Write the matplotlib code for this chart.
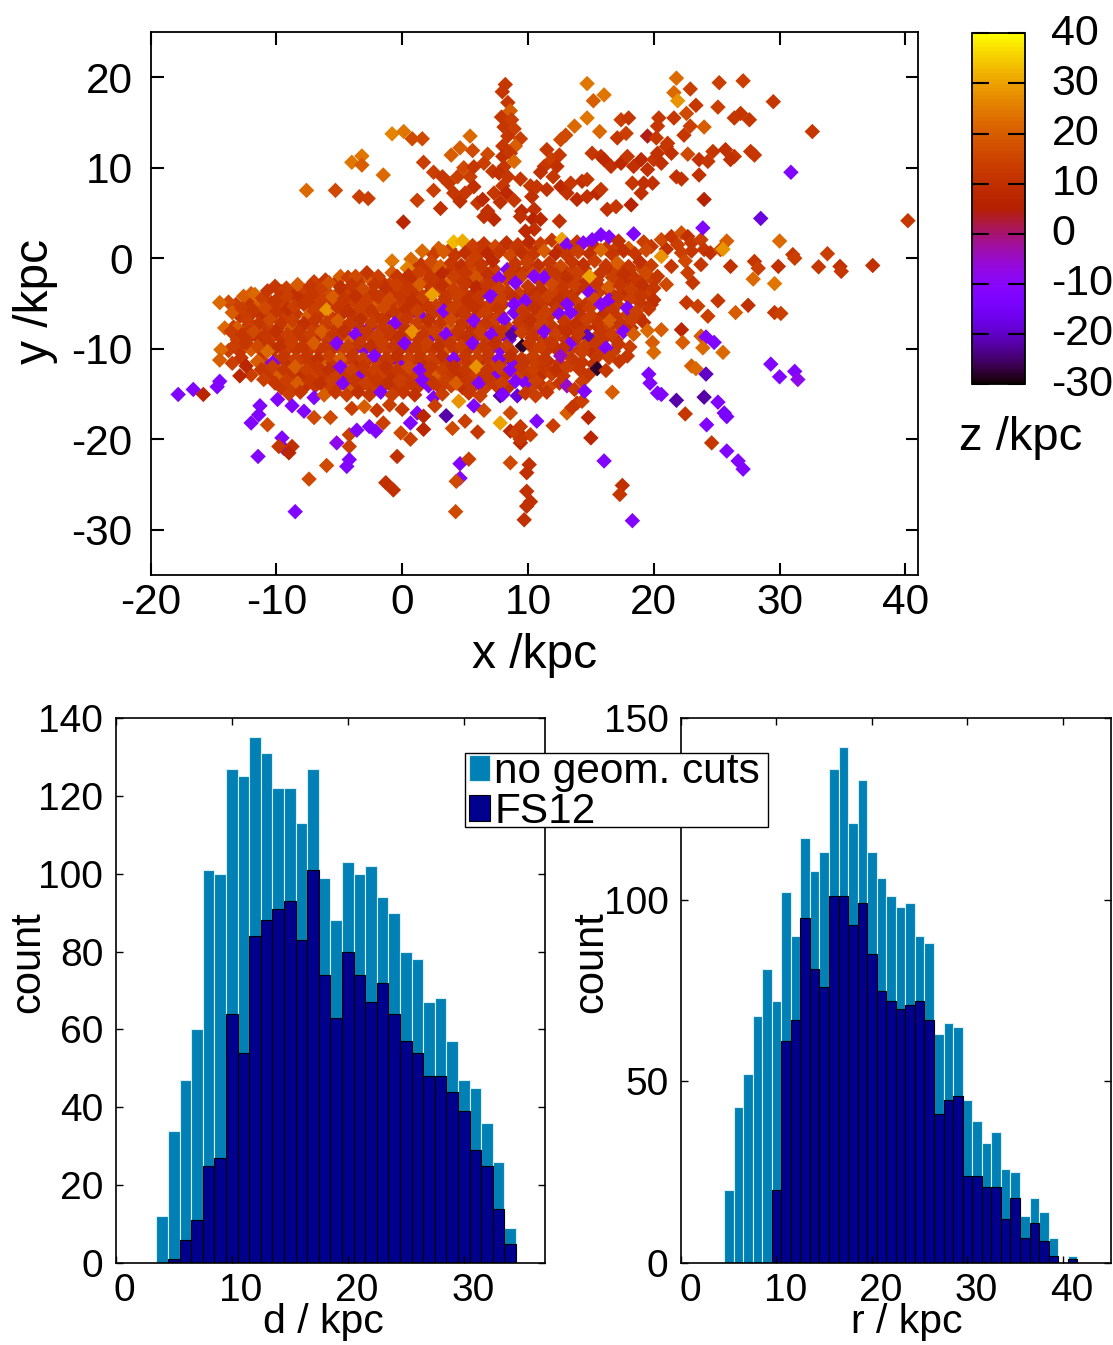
import numpy as np
import matplotlib
matplotlib.use("Agg")
import matplotlib.pyplot as plt
import matplotlib.transforms as mtransforms
from matplotlib.patches import Patch, Rectangle

plt.rcParams['font.family'] = ['Liberation Sans', 'DejaVu Sans']
plt.rcParams['axes.unicode_minus'] = False

# ---------------- histogram data ----------------
d_bin_start = 3.5
d_all = [12, 34, 47, 60, 101, 100, 127, 125, 135, 131, 122, 122, 113, 127, 99, 88,
         103, 100, 102, 94, 90, 80, 78, 67, 68, 57, 47, 45, 36, 26, 9]
d_fs12 = [0, 1, 6, 11, 25, 27, 64, 54, 84, 88, 91, 93, 83, 101, 74, 63,
          80, 74, 67, 72, 64, 57, 54, 48, 48, 44, 39, 29, 25, 14, 5]

r_bin_start = 4.5
r_all = [20, 43, 52, 68, 81, 72, 102, 90, 117, 108, 113, 136, 142, 121, 133, 113,
         106, 101, 98, 99, 90, 88, 63, 66, 65, 45, 39, 33, 36, 26, 25, 13, 18, 14, 7, 0, 2]
r_fs12 = [0, 0, 0, 0, 0, 20, 61, 67, 95, 81, 76, 101, 101, 93, 99, 85,
          75, 72, 70, 71, 72, 67, 41, 45, 46, 24, 24, 21, 21, 12, 18, 7, 11, 6, 2, 0, 1]

legend_labels = ["no geom. cuts", "FS12"]

# ---------------- scatter data (x, y, z) in kpc ----------------
band_top = [(4.1,1.8,33),(4.8,1.9,31),(5.6,1.4,14),(6.5,1.6,12),(7.4,1.3,16),(8.3,1.7,10),(9.2,1.5,12),
    (10.1,1.8,8),(11.0,1.6,14),(11.9,2.0,12),(12.7,2.1,30),(13.1,1.5,-12),(13.9,1.8,12),(14.4,1.7,-10),
    (15.1,2.05,-12),(15.8,2.6,-13),(16.45,2.35,-11),(17.2,1.9,10),(18.4,2.7,-12),(19.2,1.8,14),(20.6,2.05,16),
    (21.4,2.4,12),(22.2,2.8,18),(22.7,2.4,10),(23.0,1.7,12),(23.75,2.05,14),(25.8,1.9,20),
    (1.6,0.8,22),(2.5,0.4,14),(3.3,0.7,20),(4.2,0.3,12),(5.0,0.6,10),(5.9,0.2,14),(6.8,0.5,8),(7.7,0.7,12),
    (8.6,0.3,16),(9.5,0.6,10),(10.4,0.4,12),(11.3,0.8,20),(12.2,0.5,8),(13.1,0.3,12),(14.0,0.7,14),
    (14.9,0.5,10),(15.8,0.9,22),(16.7,0.4,12),(17.6,0.8,10),(18.5,0.5,12),(19.4,0.9,16),(20.6,0.2,28),
    (22.2,0.6,14),(24.0,0.96,12),(24.5,0.6,10),(25.3,0.96,16),(25.5,1.0,28),
    (-0.8,-0.3,24),(0.7,-0.1,22),(0.4,-1.1,26),(1.5,-0.7,12),(2.3,-0.4,16),(3.05,-0.9,20),(3.9,-0.5,12),
    (4.7,-0.8,10),(5.5,-0.4,14),(6.3,-0.7,12),(7.2,-0.3,8),(8.35,-1.25,-12),(9.0,-0.6,12),(9.9,-0.4,14),
    (10.8,-0.8,10),(11.7,-0.5,12),(12.6,-0.9,16),(13.5,-0.4,12),(14.4,-0.7,10),(15.3,-0.3,14),(16.2,-0.8,12),
    (17.1,-0.5,20),(18.0,-0.9,12),(18.9,-0.4,10),(19.8,-0.8,14),(21.4,-0.9,12),(22.5,-0.3,16),(23.75,-0.7,12),
    (26.1,-0.9,10),(28.0,-0.35,12),(28.3,-1.1,14),(29.9,-0.9,10),(31.05,0.4,12),(31.2,0.0,14),(30.0,1.9,22),
    (33.8,0.5,14),(33.1,-0.95,12),(34.8,-0.9,10),(34.9,-1.45,12),(37.4,-0.8,10)]

band_mid = [(-4.9,-2.0,20),(-4.3,-2.1,14),(-3.7,-2.0,16),(-2.8,-1.6,12),(-1.9,-2.0,14),(-0.8,-1.6,20),
    (-0.4,-2.0,12),(0.5,-1.9,10),(1.4,-1.6,14),(2.3,-2.1,12),(3.2,-1.7,8),(4.1,-2.0,14),(5.0,-1.6,12),
    (5.9,-2.1,18),(6.8,-1.8,10),(7.7,-2.2,-10),(8.6,-1.7,12),(9.5,-2.0,14),(10.4,-1.7,16),(11.3,-2.1,-12),
    (12.2,-1.8,12),(13.1,-2.2,10),(14.0,-1.7,14),(14.9,-2.0,30),(15.8,-1.6,12),(16.7,-2.1,14),(17.6,-1.8,10),
    (18.5,-2.2,12),(19.4,-1.7,16),(20.3,-2.0,12),(22.7,-1.6,14),(23.1,-2.7,12),(27.9,-2.3,22),(29.6,-2.8,24),
    (-10.1,-3.1,12),(-9.2,-3.3,14),(-8.3,-2.9,20),(-7.3,-3.1,12),(-6.4,-3.3,14),(-5.8,-2.7,18),(-4.9,-3.2,10),
    (-4.0,-3.0,12),(-3.1,-3.4,16),(-2.2,-2.9,12),(-1.3,-3.3,10),(-0.4,-3.0,14),(0.5,-3.3,12),(1.4,-2.9,20),
    (2.3,-3.2,12),(3.2,-3.0,10),(4.1,-3.4,14),(5.0,-2.9,12),(5.9,-3.2,8),(6.8,-3.0,12),(7.7,-3.3,14),
    (9.0,-2.7,-12),(10.5,-2.0,-11),(10.0,-3.1,12),(11.0,-3.4,10),(11.9,-2.9,16),(12.8,-3.2,12),(13.7,-3.0,14),
    (14.6,-3.3,10),(15.5,-2.9,12),(16.4,-3.2,20),(17.3,-3.0,12),(18.2,-3.4,14),(19.1,-3.0,10),(20.0,-3.3,12),
    (21.0,-2.9,16),
    (-13.8,-4.85,16),(-12.6,-4.2,20),(-11.7,-4.0,22),(-11.1,-4.4,14),(-10.7,-3.6,12),(-10.0,-4.6,12),
    (-9.1,-4.3,14),(-8.2,-4.5,10),(-7.3,-4.2,12),(-6.4,-4.6,14),(-5.5,-4.3,20),(-4.6,-4.5,12),(-3.7,-4.2,10),
    (-2.8,-4.6,14),(-1.9,-4.3,12),(-1.0,-4.5,16),(-0.1,-4.2,12),(0.8,-4.6,10),(1.7,-4.3,14),(2.4,-4.0,30),
    (3.4,-4.5,12),(4.3,-4.2,14),(5.2,-4.6,10),(6.1,-4.3,12),(7.0,-4.2,-12),(7.9,-4.5,14),(8.8,-4.3,10),
    (9.8,-4.7,-12),(10.7,-4.4,12),(11.6,-4.2,14),(12.5,-4.6,10),(13.4,-4.3,12),(14.9,-3.8,-12),(15.3,-4.5,16),
    (16.45,-4.6,-12),(17.2,-4.3,12),(18.1,-4.5,14),(19.0,-4.2,12),(20.0,-4.6,10),(22.6,-4.9,12),(23.5,-5.3,14),
    (25.1,-4.7,12),(27.5,-5.2,10),
    (-14.5,-4.9,22),(-13.5,-6.0,20),(-12.7,-5.6,14),(-11.8,-5.8,12),(-10.9,-5.5,16),(-10.0,-5.9,12),
    (-9.1,-5.6,10),(-8.6,-5.3,14),(-7.8,-5.1,12),(-7.0,-5.8,14),(-6.0,-5.7,28),(-5.1,-5.5,12),(-4.2,-5.9,10),
    (-3.3,-5.6,14),(-2.4,-5.8,12),(-1.5,-5.5,16),(-0.6,-5.9,12),(0.3,-5.6,10),(1.2,-5.8,14),(2.1,-5.5,12),
    (3.3,-5.8,-12),(4.0,-5.6,14),(4.9,-5.9,12),(5.8,-5.5,10),(6.7,-5.8,14),(7.6,-5.6,12),(8.9,-5.1,-12),
    (8.9,-6.0,-13),(9.6,-5.8,12),(10.5,-5.5,10),(11.4,-5.9,14),(13.1,-5.1,-12),(12.3,-5.6,12),(14.0,-5.8,10),
    (14.9,-5.5,14),(15.8,-5.1,-11),(16.7,-5.8,12),(17.9,-5.5,-12),(18.6,-5.9,14),(19.6,-5.6,12),(24.3,-6.4,14),
    (26.5,-6.0,20),(29.6,-6.0,12),(30.1,-6.1,14)]

band_low = [(-14.1,-7.7,22),(-13.1,-7.7,20),(-12.3,-6.9,14),(-11.4,-7.2,12),(-10.5,-6.8,16),(-9.6,-7.1,12),
    (-8.7,-6.9,14),(-7.8,-7.2,10),(-6.9,-6.8,12),(-6.0,-7.1,14),(-5.1,-6.9,20),(-4.2,-7.2,12),(-3.3,-6.8,10),
    (-2.4,-7.1,14),(-1.5,-6.9,12),(-0.6,-7.2,-12),(0.3,-6.8,12),(1.2,-7.1,14),(2.1,-6.9,10),(3.0,-7.2,12),
    (3.9,-6.8,16),(4.8,-7.1,12),(5.7,-6.9,-11),(6.6,-7.2,12),(7.5,-6.8,14),(8.1,-6.75,-12),(9.3,-7.1,12),
    (10.2,-6.9,10),(11.1,-7.2,14),(12.5,-6.2,-12),(13.4,-6.0,-12),(12.9,-7.0,12),(13.8,-7.2,10),(14.7,-6.8,14),
    (15.6,-7.1,12),(16.5,-6.9,20),(17.4,-7.2,12),(18.3,-6.8,14),(19.2,-7.1,10),
    (-13.6,-8.1,14),(-12.7,-8.4,12),(-11.8,-8.1,16),(-10.9,-8.4,12),(-10.0,-8.1,10),
    (-9.1,-8.4,14),(-8.2,-8.1,12),(-7.3,-8.4,14),(-6.4,-8.1,20),(-5.5,-8.4,12),(-4.6,-8.1,10),(-3.7,-8.4,-12),
    (-2.8,-8.1,12),(-1.9,-8.4,14),(-1.0,-8.1,12),(-0.1,-8.4,10),(0.8,-8.1,28),(1.7,-8.4,12),(2.6,-8.1,14),
    (3.5,-8.4,-12),(4.4,-8.1,12),(5.3,-8.4,10),(6.2,-8.1,14),(7.1,-8.4,-12),(8.0,-8.1,12),(8.75,-8.4,-22),
    (9.5,-8.2,14),(10.4,-8.4,12),(11.3,-8.1,-12),(12.2,-8.4,14),(13.1,-8.1,10),(14.7,-8.6,-20),(14.0,-8.4,12),
    (15.8,-8.2,12),(16.7,-8.4,14),(17.6,-8.1,-12),(18.4,-8.4,20),(19.5,-8.0,22),(20.6,-7.9,20),(22.2,-7.9,7),
    (-14.4,-10.1,22),(-13.3,-9.6,14),(-12.4,-9.4,12),(-11.5,-9.7,16),(-10.6,-9.4,12),(-9.7,-9.7,10),
    (-8.8,-9.4,14),(-7.9,-9.7,12),(-7.0,-9.4,20),(-6.1,-9.7,12),(-5.2,-9.4,-12),(-4.3,-9.7,14),(-3.4,-9.4,12),
    (-2.5,-9.7,10),(-1.6,-9.4,14),(-0.7,-9.7,12),(0.2,-9.4,-13),(1.1,-9.7,12),(2.0,-9.4,14),(2.9,-9.7,10),
    (3.8,-9.4,12),(4.7,-9.7,14),(5.6,-9.4,-12),(6.5,-9.7,12),(7.4,-9.4,10),(8.3,-9.7,14),(9.55,-9.7,-28),
    (10.1,-9.4,12),(11.0,-9.7,14),(11.9,-9.4,12),(13.3,-9.5,-12),(12.8,-9.9,10),(14.5,-9.7,14),(15.4,-9.4,12),
    (16.2,-9.9,-12),(17.2,-9.5,12),(18.1,-9.8,14),(19.9,-9.3,20),(22.3,-9.3,20),(23.75,-8.6,20),
    (24.15,-8.7,-12),(24.8,-9.3,-12),(23.9,-9.9,22),
    (-14.5,-11.25,20),(-12.4,-11.9,7),(-11.5,-11.4,20),(-10.7,-10.3,22),(-10.3,-11.55,-12),(-9.4,-10.8,12),
    (-8.5,-11.1,14),(-7.6,-10.8,12),(-6.7,-11.1,10),(-5.8,-10.8,14),(-4.9,-11.1,20),(-4.0,-10.8,12),
    (-3.1,-11.1,14),(-2.2,-10.8,-12),(-1.3,-11.1,12),(-0.4,-10.8,10),(0.5,-11.1,14),(1.4,-10.8,12),
    (2.3,-11.1,14),(3.2,-10.8,10),(4.1,-11.1,-12),(5.0,-10.8,12),(5.9,-11.1,14),(6.8,-10.8,12),(7.7,-11.1,-12),
    (8.6,-10.8,10),(9.5,-11.1,12),(10.4,-10.8,14),(11.3,-11.1,12),(12.6,-10.8,-5),(13.5,-11.1,12),
    (14.3,-10.4,14),(15.5,-10.9,12),(16.45,-11.0,14),(17.25,-11.4,12),(17.9,-10.8,12),(20.0,-10.4,22),
    (25.5,-10.4,22)]

band_bottom = [(-12.9,-13.0,7),(-11.2,-12.3,12),(-10.3,-12.0,14),(-9.4,-12.3,12),(-8.5,-12.0,20),
    (-7.6,-12.3,14),(-6.7,-12.0,12),(-5.8,-12.3,10),(-4.9,-12.0,-12),(-4.0,-12.3,14),(-3.1,-12.0,12),
    (-2.2,-12.3,14),(-1.3,-12.0,10),(-0.4,-12.3,12),(0.5,-12.0,16),(1.4,-12.3,-12),(2.3,-12.0,12),
    (3.2,-12.3,14),(4.1,-12.0,10),(5.0,-12.3,12),(5.9,-12.0,28),(6.8,-12.3,12),(7.7,-12.0,14),(8.6,-12.3,-12),
    (9.5,-12.0,12),(10.4,-12.3,14),(11.3,-12.0,12),(12.2,-12.3,10),(13.1,-12.0,14),(15.5,-12.2,-28),
    (14.1,-12.3,12),(16.2,-12.4,12),(23.0,-11.9,20),(23.35,-12.2,22),
    (-14.7,-14.2,-12),(-14.5,-13.6,-12),(-11.0,-13.4,14),(-10.1,-13.8,12),(-9.2,-13.5,14),(-8.3,-13.8,20),
    (-7.4,-13.5,12),(-6.5,-13.8,10),(-5.6,-13.5,14),(-4.7,-13.8,-12),(-3.8,-13.5,12),(-2.9,-13.8,14),
    (-2.0,-13.5,12),(-1.1,-13.8,10),(-0.2,-13.5,14),(0.7,-13.8,12),(1.6,-13.5,-12),(2.5,-13.8,12),
    (3.4,-13.5,14),(4.3,-13.8,20),(5.2,-13.5,12),(6.1,-13.8,-12),(7.0,-13.5,12),(7.9,-13.8,14),(9.0,-13.6,-12),
    (9.8,-13.8,-12),(10.6,-13.5,14),(11.7,-14.2,16),(12.5,-13.8,12),(13.1,-14.1,-5),(14.3,-13.6,14),
    (13.7,-14.5,12),(19.6,-12.8,-12),(19.7,-13.8,-12),(24.15,-12.8,-20),
    (-17.8,-15.05,-12),(-16.6,-14.5,-12),(-15.8,-15.05,7),(-9.9,-15.6,-12),(-7.0,-15.4,-12),(-9.0,-15.0,14),
    (-8.1,-14.8,12),(-6.2,-15.1,20),(-5.3,-14.8,12),(-4.4,-15.1,14),(-3.5,-14.8,10),(-2.6,-15.1,12),
    (-1.7,-14.8,-12),(-0.8,-15.1,14),(0.1,-14.8,12),(1.0,-15.1,10),(2.5,-15.4,-12),(3.2,-15.0,14),
    (4.5,-15.8,28),(5.3,-14.9,12),(6.2,-15.2,14),(7.8,-15.2,-22),(8.0,-15.05,-12),(9.15,-15.2,-18),
    (9.8,-14.9,12),(10.6,-15.2,14),(11.5,-14.8,12),(13.9,-16.0,12),(14.3,-15.8,14),(14.5,-14.7,-12),
    (16.7,-14.8,20),(20.3,-14.9,-12),(20.6,-15.05,-12),(24.0,-15.35,-22),(21.8,-15.7,-22)]

band_fill = [(1.0,-1.2,14),(1.9,-1.3,12),(2.8,-1.1,20),(3.7,-1.3,10),(4.6,-1.2,12),(5.5,-1.1,16),(6.4,-1.3,12),
    (7.3,-1.2,14),(9.1,-1.3,10),(10.0,-1.1,12),(10.9,-1.2,20),(11.8,-1.3,12),(12.7,-1.1,8),(13.6,-1.3,14),
    (14.5,-1.2,12),(16.3,-1.1,10),(17.2,-1.3,14),(18.1,-1.2,12),(19.0,-1.1,16),
    (2.9,1.1,20),(3.8,1.0,14),(6.1,1.1,12),(7.0,0.9,10),(8.0,1.2,14),(9.0,1.0,12),(9.9,1.2,16),(10.8,1.0,10),
    (12.6,1.2,12),(13.5,1.0,14),(15.3,1.3,10),(16.2,1.1,12),(17.1,1.3,14),(18.0,1.1,20),(19.8,1.3,12),
    (21.0,1.0,10),(21.9,1.5,14),(23.0,0.8,12),
    (-7.0,-2.6,14),(-6.1,-2.4,12),(-5.2,-2.6,10),(-3.4,-2.5,12),(-2.5,-2.4,20),(-1.6,-2.6,12),(-0.7,-2.5,14),
    (0.2,-2.4,12),(1.1,-2.6,10),(2.0,-2.5,14),(2.9,-2.4,12),(3.8,-2.6,22),(4.7,-2.5,12),(5.6,-2.4,10),
    (6.5,-2.6,14),(7.4,-2.5,12),(8.3,-2.4,14),(11.0,-2.6,12),(11.9,-2.4,10),(12.8,-2.6,14),(13.7,-2.4,12),
    (14.6,-2.6,10),(15.5,-2.4,14),(17.3,-2.5,12),(18.2,-2.6,10),(19.1,-2.4,12),(20.0,-2.5,14),
    (-12.0,-3.9,20),(-9.6,-3.7,12),(-8.7,-3.8,10),(-7.8,-3.6,14),(-6.9,-3.8,12),(-6.0,-3.7,16),(-5.1,-3.9,12),
    (-4.2,-3.6,14),(-3.3,-3.8,10),(-2.4,-3.7,12),(-1.5,-3.9,14),(-0.6,-3.6,12),(0.3,-3.8,20),(1.2,-3.7,12),
    (2.1,-3.9,10),(3.0,-3.6,14),(3.9,-3.8,12),(4.8,-3.7,14),(5.7,-3.9,10),(6.6,-3.6,12),(7.5,-3.8,-12),
    (8.4,-3.7,12),(9.3,-3.9,14),(10.2,-3.6,10),(11.1,-3.8,12),(12.0,-3.7,14),(12.9,-3.9,12),(13.8,-3.6,10),
    (15.6,-3.8,14),(16.5,-3.7,12),(17.4,-3.9,10),(18.6,-3.6,12),(19.5,-3.8,14),
    (-13.2,-5.1,14),(-12.2,-4.9,12),(-11.3,-5.1,20),(-10.4,-4.9,12),(-9.5,-5.1,14),(-8.2,-4.9,10),
    (-7.3,-5.0,12),(-6.4,-5.1,14),(-5.5,-4.9,12),(-4.6,-5.1,10),(-3.7,-4.9,14),(-2.8,-5.1,12),(-1.9,-4.9,20),
    (-1.0,-5.1,12),(-0.1,-4.9,14),(0.8,-5.1,12),(1.7,-4.9,10),(2.6,-5.1,14),(3.5,-4.9,12),(4.4,-5.1,14),
    (5.3,-4.9,10),(6.2,-5.1,12),(7.1,-4.9,14),(8.0,-5.1,12),(10.2,-5.0,14),(11.1,-5.1,12),(12.0,-4.9,10),
    (13.9,-4.9,14),(14.6,-5.1,12),(16.2,-4.9,10),(17.1,-5.1,14),(18.9,-4.9,12),(19.8,-5.1,10),
    (-12.9,-6.4,12),(-12.0,-6.2,14),(-11.1,-6.4,10),(-10.2,-6.2,12),(-9.3,-6.4,14),
    (-8.4,-6.2,12),(-7.5,-6.4,20),(-6.6,-6.2,12),(-5.7,-6.4,14),(-4.8,-6.2,10),(-3.9,-6.4,12),(-3.0,-6.2,14),
    (-2.1,-6.4,12),(-1.2,-6.2,10),(-0.3,-6.4,14),(0.6,-6.2,12),(1.5,-6.4,-12),(2.4,-6.2,12),(3.3,-6.4,14),
    (4.2,-6.2,10),(5.1,-6.4,12),(6.0,-6.2,14),(6.9,-6.4,12),(7.8,-6.2,10),(9.9,-6.4,12),(10.8,-6.2,14),
    (11.7,-6.4,12),(14.2,-6.3,12),(15.1,-6.4,14),(16.0,-6.2,10),(17.0,-6.4,12),(17.9,-6.2,14),(18.8,-6.4,12),
    (-13.4,-7.6,14),(-12.4,-7.7,12),(-11.5,-7.5,10),(-10.6,-7.7,14),(-9.7,-7.5,12),(-8.8,-7.7,20),
    (-7.9,-7.5,12),(-7.0,-7.7,14),(-6.1,-7.5,10),(-5.2,-7.7,12),(-4.3,-7.5,14),(-3.4,-7.7,12),(-2.5,-7.5,-12),
    (-1.6,-7.7,12),(-0.7,-7.5,14),(0.2,-7.7,10),(1.1,-7.5,12),(2.0,-7.7,14),(2.9,-7.5,12),(3.8,-7.7,20),
    (4.7,-7.5,12),(5.6,-7.7,10),(6.5,-7.5,14),(7.4,-7.7,12),(8.3,-7.5,14),(9.2,-7.7,-12),(10.1,-7.5,12),
    (11.0,-7.7,14),(11.9,-7.5,12),(12.8,-7.7,10),(13.7,-7.5,14),(14.6,-7.7,12),(15.5,-7.5,10),(16.4,-7.7,14),
    (17.3,-7.5,12),(18.2,-7.7,10),
    (-13.1,-9.0,14),(-12.2,-8.8,12),(-11.3,-9.0,10),(-10.4,-8.8,14),(-9.5,-9.0,12),
    (-8.6,-8.8,14),(-7.7,-9.0,12),(-6.8,-8.8,10),(-5.9,-9.0,14),(-5.0,-8.8,12),(-4.1,-9.0,20),(-3.2,-8.8,12),
    (-2.3,-9.0,14),(-1.4,-8.8,12),(-0.5,-9.0,10),(0.4,-8.8,14),(1.3,-9.0,12),(2.2,-8.8,-12),(3.1,-9.0,12),
    (4.0,-8.8,14),(4.9,-9.0,10),(5.8,-8.8,12),(6.7,-9.0,14),(7.6,-8.8,12),(8.5,-9.0,-12),(10.3,-8.8,10),
    (11.2,-9.0,12),(12.1,-8.8,14),(13.0,-9.0,12),(13.9,-8.8,10),(15.2,-9.0,14),(16.1,-8.8,12),(17.0,-9.0,10),
    (-13.8,-10.2,14),(-12.9,-10.3,12),(-12.0,-10.1,20),(-11.1,-10.3,12),(-10.2,-10.1,10),(-9.3,-10.3,14),
    (-8.4,-10.1,12),(-7.5,-10.3,14),(-6.6,-10.1,12),(-5.7,-10.3,10),(-4.8,-10.1,14),(-3.9,-10.3,12),
    (-3.0,-10.1,-12),(-2.1,-10.3,12),(-1.2,-10.1,14),(-0.3,-10.3,10),(0.6,-10.1,12),(1.5,-10.3,14),
    (2.4,-10.1,12),(3.3,-10.3,20),(4.2,-10.1,12),(5.1,-10.3,10),(6.0,-10.1,14),(6.9,-10.3,12),(7.8,-10.1,-12),
    (8.7,-10.3,12),(10.5,-10.1,14),(11.4,-10.3,12),(12.3,-10.1,10),(13.2,-10.3,14),(14.1,-10.1,12),
    (15.0,-10.3,10),(15.9,-10.1,12),(16.8,-10.3,14),
    (-13.5,-11.6,14),(-12.8,-11.0,12),(-10.9,-11.6,14),(-10.0,-11.4,12),(-9.1,-11.6,10),(-8.2,-11.4,14),
    (-7.3,-11.6,12),(-6.4,-11.4,20),(-5.5,-11.6,12),(-4.6,-11.4,14),(-3.7,-11.6,10),(-2.8,-11.4,12),
    (-1.9,-11.6,14),(-1.0,-11.4,12),(-0.1,-11.6,-12),(0.8,-11.4,12),(1.7,-11.6,10),(2.6,-11.4,14),
    (3.5,-11.6,12),(4.4,-11.4,14),(5.3,-11.6,12),(6.2,-11.4,10),(7.1,-11.6,14),(8.0,-11.4,12),(8.9,-11.6,-12),
    (9.8,-11.4,12),(10.7,-11.6,14),(11.6,-11.4,10),(12.5,-11.6,12),(13.4,-11.8,14),(14.3,-11.5,12),
    (15.2,-11.7,10),
    (-12.0,-12.9,14),(-10.6,-13.0,12),(-9.7,-12.8,20),(-8.8,-13.0,12),(-7.9,-12.8,10),(-7.0,-13.0,14),
    (-6.1,-12.8,12),(-5.2,-13.0,14),(-4.3,-12.8,12),(-3.4,-13.0,-12),(-2.5,-12.8,12),(-1.6,-13.0,14),
    (-0.7,-12.8,10),(0.2,-13.0,12),(1.1,-12.8,14),(2.0,-13.0,12),(2.9,-12.8,20),(3.8,-13.0,12),(4.7,-12.8,10),
    (5.6,-13.0,14),(6.5,-12.8,12),(7.4,-13.0,-12),(8.3,-12.8,12),(9.2,-13.0,14),(10.1,-12.8,12),
    (11.0,-13.0,10),(11.9,-12.8,14),(12.8,-13.0,12),(14.8,-12.9,12),
    (-9.6,-14.3,12),(-8.7,-14.1,14),(-7.8,-14.3,10),(-6.9,-14.1,12),(-6.0,-14.3,14),(-5.1,-14.1,12),
    (-4.2,-14.3,20),(-3.3,-14.1,12),(-2.4,-14.3,14),(-1.5,-14.1,10),(-0.6,-14.3,12),(0.3,-14.1,14),
    (1.2,-14.3,12),(2.1,-14.1,-12),(3.0,-14.3,12),(3.9,-14.1,14),(4.8,-14.3,10),(5.7,-14.1,12),(6.6,-14.3,14),
    (7.5,-14.1,12),(8.4,-14.3,10),(10.2,-14.3,14),(11.1,-14.1,12)]

south_tail = [(-8.75,-16.3,-12),(-7.8,-16.9,-12),(-11.3,-16.3,-12),(-11.4,-17.3,-12),(-12.0,-18.2,-12),
    (-10.7,-18.4,16),(-7.0,-17.6,16),(-5.7,-17.6,16),(-4.0,-16.6,14),(-3.0,-16.4,20),(-2.0,-16.8,12),
    (-1.0,-16.2,14),(0.0,-16.7,12),(1.2,-17.1,-12),(0.66,-18.2,-12),(1.7,-17.45,7),(1.7,-18.9,7),
    (3.5,-17.4,-22),(5.7,-16.3,-12),(2.6,-16.3,14),(6.5,-16.8,16),(7.8,-18.2,30),(8.6,-19.1,7),(9.4,-19.5,7),
    (9.4,-20.4,7),(8.6,-17.1,16),(9.0,-19.3,14),(9.4,-18.6,12),(10.2,-19.5,14),(9.4,-20.0,12),(10.7,-18.0,-12),
    (13.1,-17.1,20),(14.8,-17.6,7),(15.0,-19.85,7),(16.05,-22.4,-12),(17.5,-25.1,10),(17.3,-26.1,12),
    (18.3,-29.0,-12),(22.5,-17.2,12),(25.1,-15.9,-12),(25.6,-17.1,-14),(25.8,-17.5,-14),(24.2,-18.4,-12),
    (24.6,-20.4,12),(25.8,-21.3,-12),(26.7,-22.4,-12),(27.1,-23.3,-12),(29.3,-11.7,-12),(30.0,-13.1,-12),
    (31.2,-12.5,-12),(31.45,-13.4,-8),
    (-9.55,-19.85,-12),(-9.4,-21.0,-12),(-9.8,-20.8,12),(-8.75,-20.8,10),(-9.0,-21.5,7),(-11.45,-21.9,-12),
    (-8.5,-28.0,-12),(-7.4,-24.4,16),(-6.0,-22.9,16),(-5.2,-20.4,-8),(-4.2,-20.8,14),(-4.2,-22.25,-12),
    (-4.4,-23.0,-12),(-4.2,-19.5,14),(-1.3,-24.8,10),(-0.7,-25.6,10),(-0.4,-21.9,10),(-0.1,-19.3,16),
    (0.66,-20.0,14),(-2.6,-18.6,-12),(-2.1,-19.1,-12),(-3.6,-19.0,-12),(-1.5,-18.2,14),(4.6,-22.7,-12),
    (5.3,-22.2,14),(4.6,-24.3,-12),(4.3,-24.65,16),(4.25,-28.0,16),(8.6,-22.6,16),(10.1,-22.8,10),
    (9.9,-23.7,10),(9.9,-25.75,10),(10.2,-26.9,10),(9.9,-27.4,10),(9.7,-28.9,10),(5.0,-18.0,14),
    (4.0,-18.8,16),(6.0,-19.2,12),(12.0,-18.5,14),(13.5,-16.5,12)]

north_arm = [(-7.6,7.5,22),(-5.3,7.5,16),(-4.0,10.6,24),(-3.2,11.3,24),(-3.2,10.3,20),(-1.5,9.2,22),
    (-3.4,6.8,14),(-2.7,6.6,14),(-0.8,13.75,26),(0.13,14.0,24),(0.8,13.2,16),(1.6,13.2,16),(1.2,6.4,14),
    (0.1,4.0,7),(1.7,10.6,14),(2.5,9.5,14),(2.5,7.5,14),(3.05,5.5,10),(3.9,11.4,20),(4.6,12.2,20),
    (5.4,13.5,22),(5.6,11.9,16),(6.8,11.5,16),(6.5,10.5,14),(7.2,9.6,12),
    (3.2,9.0,12),(3.7,8.3,12),(4.1,7.2,12),(4.6,6.3,10),(5.0,7.2,12),(5.4,9.0,14),(5.7,7.9,10),(6.0,6.1,12),
    (6.4,6.5,8),(6.8,5.2,10),(7.3,4.3,8),(6.5,4.6,10),(4.4,9.0,14),(4.9,10.0,16),(5.7,10.1,12),(7.3,7.2,12),
    (8.2,19.2,12),(7.96,18.4,12),(8.4,17.2,12),(8.6,16.3,20),(7.9,15.6,12),(8.7,15.3,14),(8.1,14.5,12),
    (8.9,14.3,14),(8.4,13.5,12),(9.4,13.2,14),(9.0,12.4,20),(8.0,12.4,12),(8.0,11.25,10),(8.6,11.6,12),
    (8.9,10.7,22),(8.1,10.1,12),(7.7,9.4,10),(8.4,9.0,12),(9.4,8.75,12),(8.0,8.0,12),(8.3,7.2,8),(7.8,6.2,10),
    (8.9,6.4,12),(9.5,5.2,8),(10.2,8.0,12),(10.3,6.8,10),(10.5,5.4,10),(10.4,4.3,6),(10.5,3.2,10),
    (11.3,10.15,12),(11.9,10.9,14),(12.5,11.4,12),(12.3,10.15,10),(10.7,7.9,12),(11.5,7.6,10),(12.6,7.9,8),
    (13.4,8.3,12),(14.3,8.5,10),(14.7,8.7,12),(15.1,11.6,12),(15.8,11.25,10),(16.05,10.9,8),(16.6,10.15,10),
    (17.4,10.5,8),(17.9,11.25,12),(18.4,10.15,10),(19.0,10.9,8),(19.5,9.8,10),(20.0,10.9,12),(20.3,11.6,10),
    (21.1,12.7,12),(17.1,13.3,12),(17.4,15.3,14),(18.0,15.5,12),(17.8,13.8,14),(19.5,13.5,4),(13.1,7.2,10),
    (13.9,6.5,8),(14.7,6.8,10),(15.5,7.2,8),(15.8,7.6,12),(16.3,5.4,10),(17.0,5.7,12),(18.2,5.9,6),
    (19.0,7.2,10),(18.3,8.3,12),(19.2,8.3,10),(19.9,8.3,10),(11.0,4.3,8),(12.5,4.1,10),(9.4,4.6,10),
    (11.5,12.0,12),(12.0,9.0,12),(11.0,9.5,10),(9.8,3.0,8),
    (14.7,19.3,24),(16.05,18.05,24),(15.2,17.4,20),(14.7,15.5,24),(13.7,14.6,22),(13.0,13.6,16),
    (12.6,13.1,16),(15.7,14.0,22),(21.8,19.9,22),(21.6,18.3,22),(21.9,17.4,28),(22.9,18.7,14),(23.35,16.9,12),
    (25.2,19.4,14),(27.1,19.6,14),(25.1,16.7,14),(26.9,16.0,12),(26.4,15.5,12),(27.6,15.3,12),(29.5,17.3,12),
    (32.6,14.0,12),(24.0,14.5,20),(22.9,14.6,14),(22.4,13.6,12),(21.6,15.5,12),(22.6,16.0,16),(20.4,15.5,12),
    (20.3,14.6,12),(20.2,13.3,12),(21.0,12.35,12),(21.4,11.6,10),(20.6,10.5,10),(21.8,9.0,10),(22.2,8.75,10),
    (22.7,11.5,16),(23.6,10.9,10),(24.3,10.7,12),(24.7,11.8,12),(25.7,12.0,10),(26.4,11.25,12),(26.1,10.9,10),
    (27.7,11.8,12),(28.0,11.4,12),(23.6,9.2,10),(24.0,6.5,6),(30.9,9.5,-12),(28.5,4.4,-18),(23.9,3.35,-12),
    (40.2,4.15,12)]

point_groups = [band_fill, band_top, band_mid, band_low, band_bottom, south_tail, north_arm]

# ---------------- figure ----------------
W, H = 1113, 1345
fig = plt.figure(figsize=(W / 100, H / 100), dpi=100)

def fx(px):
    return px / W

def fy(py):
    return 1 - py / H

# scatter panel
ax = fig.add_axes([fx(150.5), fy(575), fx(918) - fx(150.5), fy(32) - fy(575)])
pts = np.array([p for g in point_groups for p in g], dtype=float)
sc = ax.scatter(pts[:, 0], pts[:, 1], c=pts[:, 2], cmap='gnuplot', vmin=-30, vmax=40,
                marker='D', s=62, linewidths=0)
ax.set_xlim(-20, 41)
ax.set_ylim(-35, 25)
ax.set_xticks(np.arange(-20, 41, 10))
ax.set_yticks(np.arange(-30, 21, 10))
ax.tick_params(direction='in', length=9, width=1.5, top=True, right=True, labelsize=30.5)
ax.tick_params(axis='x', pad=6)
ax.tick_params(axis='y', pad=13)
for s in ax.spines.values():
    s.set_linewidth(1.3)
fig.text(fx(534), fy(668), 'x /kpc', ha='center', va='baseline', fontsize=34.5)
fig.text(fx(35), fy(302), 'y /kpc', ha='center', va='center', rotation=90, fontsize=34.5)

# colorbar
cax = fig.add_axes([fx(972), fy(384), fx(1025) - fx(972), fy(33.3) - fy(384)])
cb = fig.colorbar(sc, cax=cax)
cb.set_ticks(np.arange(-30, 41, 10))
cax.tick_params(direction='in', length=12, width=1.5, left=True, right=True, labelsize=31, pad=19)
cb.outline.set_linewidth(1.3)
up = mtransforms.ScaledTranslation(0, 4 / 100, fig.dpi_scale_trans)
for lab in cax.get_yticklabels():
    lab.set_transform(lab.get_transform() + up)
fig.text(fx(1021), fy(450), 'z /kpc', ha='center', va='baseline', fontsize=34)

# histograms
light = '#0080B4'
dark = '#00008C'
shift = mtransforms.ScaledTranslation(9 / 100, 0, fig.dpi_scale_trans)

def hist_panel(rect, start, all_counts, fs_counts, xmax, yticks, xticks, xlabel, xlabel_pos, ylabel_pos):
    a = fig.add_axes(rect)
    n = len(all_counts)
    lefts = start + np.arange(n)
    a.bar(lefts, all_counts, width=1.0, align='edge', color=light, edgecolor='#d8eef8', linewidth=0.8)
    a.bar(lefts, fs_counts, width=1.0, align='edge', color=dark, edgecolor='black', linewidth=0.8)
    a.set_xlim(0, xmax)
    a.set_ylim(yticks[0], yticks[-1])
    a.set_xticks(xticks)
    a.set_yticks(yticks)
    a.tick_params(direction='in', length=5, width=1, top=True, right=True, labelsize=28)
    a.tick_params(axis='x', pad=7)
    a.tick_params(axis='y', pad=9)
    for lab in a.get_xticklabels():
        lab.set_transform(lab.get_transform() + shift)
    for s in a.spines.values():
        s.set_linewidth(1.2)
    fig.text(fx(xlabel_pos[0]), fy(xlabel_pos[1]), xlabel, ha='center', va='baseline', fontsize=29.5)
    fig.text(fx(ylabel_pos[0]), fy(ylabel_pos[1]), 'count', ha='center', va='center',
             rotation=90, fontsize=30)
    return a

ax1 = hist_panel([fx(115.7), fy(1263), fx(545) - fx(115.7), fy(718) - fy(1263)], d_bin_start,
                 d_all, d_fs12, 37, list(range(0, 141, 20)), [0, 10, 20, 30], 'd / kpc',
                 (323, 1333), (28, 962))
ax2 = hist_panel([fx(681), fy(1263), fx(1110.7) - fx(681), fy(718) - fy(1263)], r_bin_start,
                 r_all, r_fs12, 45, [0, 50, 100, 150], [0, 10, 20, 30, 40], 'r / kpc',
                 (907, 1333), (591, 962))

# legend: white box with black frame spanning both panels, entries drawn by fig.legend
frame = Rectangle((fx(465), fy(826.7)), fx(768) - fx(465), fy(752.7) - fy(826.7),
                  transform=fig.transFigure, facecolor='white', edgecolor='black',
                  linewidth=1.0, zorder=4)
fig.patches.append(frame)
handles = [Patch(facecolor=light, edgecolor='#d8eef8', linewidth=0.8),
           Patch(facecolor=dark, edgecolor='black', linewidth=0.8)]
leg = fig.legend(handles, legend_labels, loc='upper left', bbox_to_anchor=(fx(469), fy(752)),
                 fontsize=30.5, handlelength=0.5, handleheight=0.55, handletextpad=0.1,
                 borderpad=0.0, labelspacing=0.0, borderaxespad=0.0, frameon=False)
leg.set_zorder(6)

fig.savefig('out.png', dpi=100)
